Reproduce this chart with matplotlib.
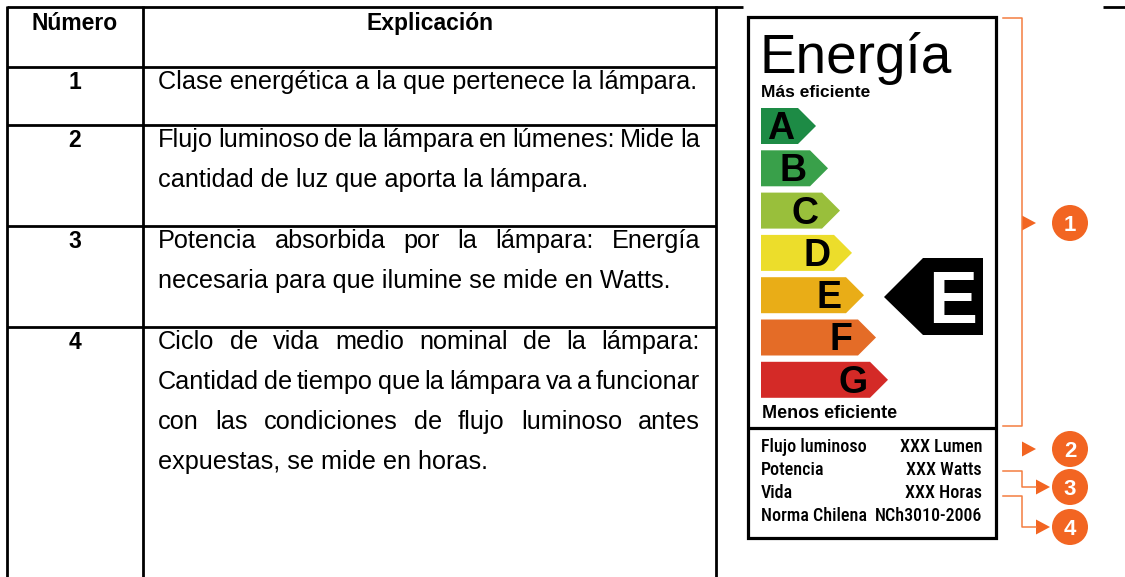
import matplotlib
matplotlib.use("Agg")
import matplotlib.pyplot as plt
from matplotlib import font_manager
from matplotlib.patches import Polygon, Rectangle, Circle

# canvas in pixels, 1 data unit = 1 px
W, H = 1125, 577

# table content
headers = ["Número", "Explicación"]
row_numbers = ["1", "2", "3", "4"]
row_lines = [
    ["Clase energética a la que pertenece la lámpara."],
    ["Flujo luminoso de la lámpara en lúmenes: Mide la",
     "cantidad de luz que aporta la lámpara."],
    ["Potencia absorbida por la lámpara: Energía",
     "necesaria para que ilumine se mide en Watts."],
    ["Ciclo de vida medio nominal de la lámpara:",
     "Cantidad de tiempo que la lámpara va a funcionar",
     "con las condiciones de flujo luminoso antes",
     "expuestas, se mide en horas."],
]

# energy label content
label_title = "Energía"
top_note = "Más eficiente"
bottom_note = "Menos eficiente"
classes = ["A", "B", "C", "D", "E", "F", "G"]
class_colors = ["#1d8b45", "#39a04a", "#99bf3b", "#ecdd2b", "#e9ad17", "#e46c27", "#d42a27"]
rated_class = "E"
info_labels = ["Flujo luminoso", "Potencia", "Vida", "Norma Chilena"]
info_values = ["XXX Lumen", "XXX Watts", "XXX Horas", "NCh3010-2006"]
callouts = ["1", "2", "3", "4"]

ORANGE = "#f26522"
ORANGE_LINE = "#f47d40"

installed = {f.name for f in font_manager.fontManager.ttflist}
SANS = ["Liberation Sans", "DejaVu Sans"]

# the small print on the label is a narrow face; use what is there
narrow_kw = None
for fam, size, weight in [("Liberation Sans Narrow", 12.5, "bold"),
                          ("Roboto Condensed", 13, "medium"),
                          ("Roboto", 12, "medium")]:
    if fam in installed:
        narrow_kw = dict(family=[fam, "DejaVu Sans"], fontsize=size, fontweight=weight)
        break
if narrow_kw is None:
    narrow_kw = dict(family=SANS, fontsize=11, fontweight="normal")

fig = plt.figure(figsize=(W / 100, H / 100), dpi=100)
ax = fig.add_axes([0, 0, 1, 1])
ax.set_xlim(0, W)
ax.set_ylim(H, 0)
ax.axis("off")
renderer = fig.canvas.get_renderer()


def justify(line, x0, x1, y, fs):
    """Spread the words of one line between x0 and x1."""
    words = line.split()
    arts = [ax.text(x0, y, w, fontsize=fs, family=SANS, va="baseline", ha="left")
            for w in words]
    widths = [a.get_window_extent(renderer).width for a in arts]
    gap = (x1 - x0 - sum(widths)) / max(len(words) - 1, 1)
    x = x0
    for a, w in zip(arts, widths):
        a.set_x(x)
        x += w + gap


# ---- table grid ----
col_x = [7, 143, 716]
rule_y = [67, 125, 226, 327]
lw_table = 2.0
ax.plot([7, 743], [7, 7], color="black", lw=lw_table, solid_capstyle="butt")
ax.plot([1103, W], [7, 7], color="black", lw=lw_table, solid_capstyle="butt")
for y in rule_y:
    ax.plot([col_x[0], col_x[2]], [y, y], color="black", lw=lw_table, solid_capstyle="butt")
for x in col_x:
    ax.plot([x, x], [6, H], color="black", lw=lw_table, solid_capstyle="butt")

body_fs = 18.2
head_fs = 16.5
ax.text((col_x[0] + col_x[1]) / 2, 30, headers[0], fontsize=head_fs, fontweight="bold",
        family=SANS, ha="center", va="baseline")
ax.text((col_x[1] + col_x[2]) / 2, 30, headers[1], fontsize=head_fs, fontweight="bold",
        family=SANS, ha="center", va="baseline")

text_x0, text_x1 = 158, 700
line_gap = 40
for i, (num, lines) in enumerate(zip(row_numbers, row_lines)):
    base = rule_y[i] + 22
    ax.text((col_x[0] + col_x[1]) / 2, base, num, fontsize=head_fs, fontweight="bold",
            family=SANS, ha="center", va="baseline")
    for j, line in enumerate(lines):
        y = base + j * line_gap
        if j < len(lines) - 1:
            justify(line, text_x0, text_x1, y, body_fs)
        else:
            ax.text(text_x0, y, line, fontsize=body_fs, family=SANS,
                    ha="left", va="baseline")

# ---- energy label ----
fx0, fy0, fx1, fy1, fdiv = 748, 17, 996, 538, 428
ax.add_patch(Rectangle((fx0, fy0), fx1 - fx0, fy1 - fy0, fill=False,
                       ec="black", lw=2.3, joinstyle="miter"))
ax.plot([fx0, fx1], [fdiv, fdiv], color="black", lw=2.3, solid_capstyle="butt")

ax.text(760, 73, label_title, fontsize=39.5, family=SANS, va="baseline", ha="left")
ax.text(761, 97, top_note, fontsize=12.5, fontweight="bold", family=SANS,
        va="baseline", ha="left")
ax.text(762, 418, bottom_note, fontsize=13, fontweight="bold", family=SANS,
        va="baseline", ha="left")

bar_left, bar_h = 761, 36
for i, (cls, col) in enumerate(zip(classes, class_colors)):
    yc = 126 + i * 42.3
    tip = 816 + i * 12
    half = bar_h / 2
    pts = [(bar_left, yc - half), (tip - half, yc - half), (tip, yc),
           (tip - half, yc + half), (bar_left, yc + half)]
    ax.add_patch(Polygon(pts, closed=True, fc=col, ec="none"))
    ax.text(tip - 35, yc + 13, cls, fontsize=27, fontweight="bold", family=SANS,
            ha="center", va="baseline")
    if cls == rated_class:
        # black pointer with the rated class
        ryc = 297
        rpts = [(884, ryc), (923, ryc - 39), (983, ryc - 39), (983, ryc + 38), (923, ryc + 38)]
        ax.add_patch(Polygon(rpts, closed=True, fc="black", ec="none"))
        ax.text(953, ryc + 26, cls, fontsize=53, fontweight="bold", family=SANS,
                color="white", ha="center", va="baseline")

for i, (lab, val) in enumerate(zip(info_labels, info_values)):
    y = 452 + i * 23
    ax.text(761, y, lab, ha="left", va="baseline", **narrow_kw)
    ax.text(982, y, val, ha="right", va="baseline", **narrow_kw)

# ---- orange callouts ----
ax.plot([1003, 1022, 1022, 1003], [18, 18, 426, 426], color=ORANGE_LINE, lw=1.1)
ax.plot([1003, 1022, 1022, 1036], [471, 471, 487, 487], color=ORANGE_LINE, lw=1.1)
ax.plot([1003, 1022, 1022, 1036], [496, 496, 527, 527], color=ORANGE_LINE, lw=1.1)

circle_y = [223, 449, 487, 527]
arrow_x = [1022, 1022, 1036, 1036]
for lab, cy, axx in zip(callouts, circle_y, arrow_x):
    ax.add_patch(Polygon([(axx, cy - 7.5), (axx + 14, cy), (axx, cy + 7.5)],
                         closed=True, fc=ORANGE, ec="none"))
    ax.add_patch(Circle((1070, cy), 18, fc=ORANGE, ec="none"))
    ax.text(1070, cy + 8, lab, fontsize=16, fontweight="bold", family=SANS,
            color="white", ha="center", va="baseline")

fig.savefig("out.png", dpi=100)
